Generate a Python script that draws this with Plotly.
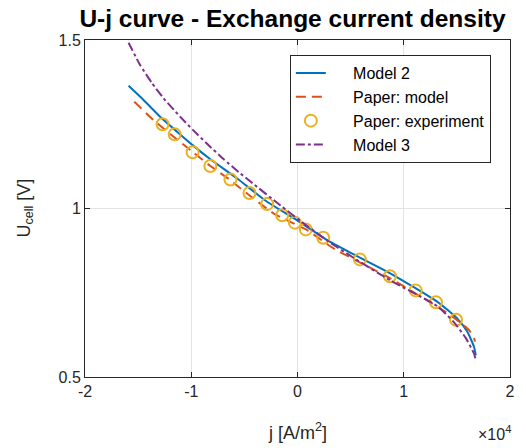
import plotly.graph_objects as go

# Current density j [A/m^2] and cell voltage U [V] for each series
j_model2 = [-15900, -14490, -12750, -11340, -9870, -8200, -5680, -2860, -30,
            2800, 4840, 8770, 13170, 15050, 15990, 16620, 16780]
u_model2 = [1.364, 1.322, 1.267, 1.228, 1.188, 1.146, 1.089, 1.020, 0.965,
            0.906, 0.871, 0.807, 0.723, 0.673, 0.634, 0.589, 0.564]

j_paper_model = [-15360, -13540, -11660, -9870, -8200, -6310, -5370, -2230, 910,
                 3420, 8770, 14420, 16150, 16620, 16700]
u_paper_model = [1.317, 1.262, 1.213, 1.168, 1.126, 1.084, 1.060, 0.985, 0.936,
                 0.881, 0.792, 0.683, 0.639, 0.615, 0.605]

j_paper_exp = [-12700, -11560, -9870, -8200, -6310, -4520, -2860, -1440, -250,
               780, 2420, 5870, 8700, 11120, 13030, 14920]
u_paper_exp = [1.250, 1.220, 1.167, 1.126, 1.086, 1.046, 1.013, 0.980, 0.958,
               0.938, 0.913, 0.849, 0.799, 0.757, 0.722, 0.670]

j_model3 = [-15900, -14800, -13690, -12600, -11030, -9870, -8510, -6940, -5530,
            -4430, -1600, 280, 3110, 5310, 8770, 13170, 14730, 15830, 16620, 16780]
u_model3 = [1.492, 1.425, 1.372, 1.327, 1.272, 1.234, 1.192, 1.146, 1.108,
            1.080, 1.009, 0.963, 0.898, 0.853, 0.786, 0.710, 0.662, 0.616, 0.569, 0.549]

x_ticks = [-20000, -10000, 0, 10000, 20000]
x_tick_labels = ["-2", "-1", "0", "1", "2"]
y_ticks = [0.5, 1.0, 1.5]
y_tick_labels = ["0.5", "1", "1.5"]

BLUE = "#0072BD"
ORANGE = "#D95319"
YELLOW = "#EDB120"
PURPLE = "#7E2F8E"
FONT = "Liberation Sans, Arial, sans-serif"
PAD = "\u00a0" * 5

fig = go.Figure()
fig.add_trace(go.Scatter(x=j_model2, y=u_model2, mode="lines", name=PAD + "Model 2",
                         line=dict(color=BLUE, width=2, shape="spline", smoothing=0.5)))
fig.add_trace(go.Scatter(x=j_paper_model, y=u_paper_model, mode="lines",
                         name=PAD + "Paper: model",
                         line=dict(color=ORANGE, width=2, dash="10px,6px", shape="spline",
                                   smoothing=0.5)))
fig.add_trace(go.Scatter(x=j_paper_exp, y=u_paper_exp, mode="markers",
                         name=PAD + "Paper: experiment",
                         marker=dict(symbol="circle-open", size=12, color=YELLOW,
                                     line=dict(width=2, color=YELLOW))))
fig.add_trace(go.Scatter(x=j_model3, y=u_model3, mode="lines", name=PAD + "Model 3",
                         line=dict(color=PURPLE, width=2, dash="dashdot", shape="spline",
                                   smoothing=0.5)))

axis_common = dict(
    showline=True, linecolor="#262626", linewidth=1, mirror="allticks",
    ticks="inside", ticklen=5, tickcolor="#262626",
    showgrid=True, gridcolor="#e3e3e3", gridwidth=1, zeroline=False,
    tickfont=dict(family=FONT, size=16, color="#262626"),
)

fig.update_layout(
    width=526, height=448,
    margin=dict(l=85, r=16, t=40, b=71),
    paper_bgcolor="white", plot_bgcolor="white",
    font=dict(family=FONT, color="#262626"),
    title=dict(text="<b>U-j curve - Exchange current density</b>",
               x=0.556, xanchor="center", y=0.958, yanchor="middle",
               font=dict(family=FONT, size=24.5, color="black")),
    xaxis=dict(range=[-20000, 20000], tickvals=x_ticks, ticktext=x_tick_labels,
               **axis_common),
    yaxis=dict(range=[0.5, 1.5], tickvals=y_ticks, ticktext=y_tick_labels,
               **axis_common),
    legend=dict(x=0.482, y=0.955, xanchor="left", yanchor="top",
                bgcolor="white", bordercolor="#262626", borderwidth=1,
                font=dict(family=FONT, size=16, color="black"),
                tracegroupgap=0, itemwidth=30),
    showlegend=True,
)

# Axis titles and the x-axis exponent
fig.add_annotation(text="j [A/m<sup>2</sup>]", xref="paper", yref="paper",
                   x=0.5, y=-0.163, xanchor="center", yanchor="middle", showarrow=False,
                   font=dict(family=FONT, size=18, color="#262626"))
fig.add_annotation(text="U<sub>cell</sub> [V]", xref="paper", yref="paper",
                   x=-0.141, y=0.5, xanchor="center", yanchor="middle", showarrow=False,
                   textangle=-90, font=dict(family=FONT, size=18, color="#262626"))
fig.add_annotation(text="\u00d710<sup>4</sup>", xref="paper", yref="paper",
                   x=1.007, y=-0.166, xanchor="right", yanchor="middle", showarrow=False,
                   font=dict(family=FONT, size=16, color="#262626"))

fig.write_html("out.html")
